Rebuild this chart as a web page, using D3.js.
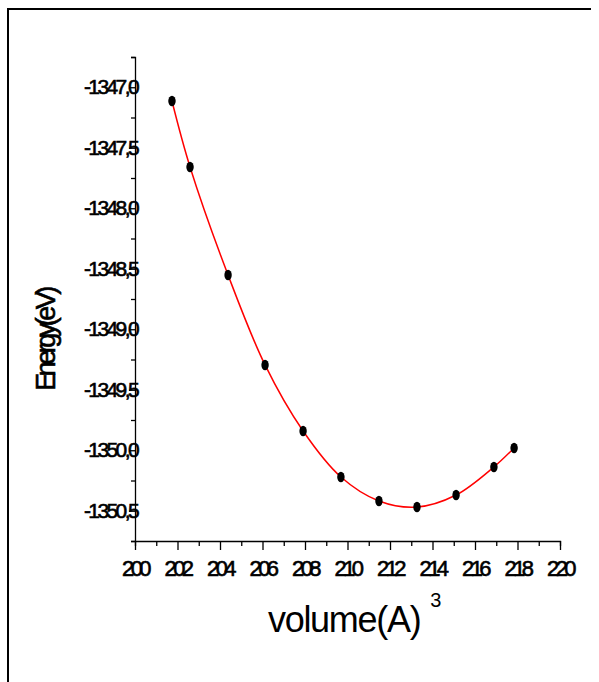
<!DOCTYPE html>
<html lang="en">
<head>
    <meta charset="UTF-8">
    <title>Energy vs volume</title>
    <style>
        body { margin: 0; background: #fff; }
        svg text { font-family: "Liberation Sans", Arial, sans-serif; fill: #000; }
        .heavy { stroke: #000; stroke-width: 0.6px; }
    </style>
</head>
<body>
    <svg class="chart"></svg>

    <script src="https://cdnjs.cloudflare.com/ajax/libs/d3/7.8.5/d3.min.js"></script>
    <script>

    // values
    const volumes  = [201.74, 202.59, 204.38, 206.12, 207.91, 209.69, 211.48, 213.27, 215.11, 216.89, 217.84];
    const energies = [-1347.114, -1347.659, -1348.552, -1349.295, -1349.841, -1350.221, -1350.419, -1350.469, -1350.370, -1350.138, -1349.981];

    const xTicks = [200, 202, 204, 206, 208, 210, 212, 214, 216, 218, 220];
    const yTicks = [-1347.0, -1347.5, -1348.0, -1348.5, -1349.0, -1349.5, -1350.0, -1350.5];

    const width = 599, height = 682;

    const svg = d3.select('.chart')
                    .attr('width', width)
                    .attr('height', height);

    // outer frame (only left and top edges show)
    svg.append('path')
        .attr('d', 'M8,682 L8,9 L591,9')
        .attr('fill', 'none')
        .attr('stroke', '#000')
        .attr('stroke-width', 2);

    const xScale = d3.scaleLinear().domain([200, 220]).range([135, 560]);
    const yScale = d3.scaleLinear().domain([-1346.75, -1350.75]).range([57, 541]);

    // x axis: major + minor ticks
    const xAxis = d3.axisBottom(xScale).tickValues(xTicks).tickSize(9).tickFormat('');
    const gx = svg.append('g').attr('transform', 'translate(0,541)').call(xAxis);
    gx.append('g').call(d3.axisBottom(xScale).tickValues(d3.range(201, 220, 2)).tickSize(5).tickFormat(''));

    // y axis
    const yAxis = d3.axisLeft(yScale).tickValues(yTicks).tickSize(6).tickFormat('');
    const gy = svg.append('g').attr('transform', 'translate(135,0)').call(yAxis);
    gy.append('g').call(d3.axisLeft(yScale).tickValues(yTicks.map(v => v + 0.25).concat([-1350.75])).tickSize(4).tickFormat(''));

    svg.selectAll('.domain').attr('stroke', '#000').attr('stroke-width', 1.3);
    svg.selectAll('.tick line').attr('stroke', '#000').attr('stroke-width', 1.3);
    gx.select('g .domain').remove();
    gy.select('g .domain').remove();

    // tick labels (squeezed like the original)
    svg.append('g').selectAll('text')
        .data(xTicks)
        .enter().append('text')
        .attr('class', 'heavy')
        .attr('x', d => xScale(d))
        .attr('y', 576)
        .attr('text-anchor', 'middle')
        .style('font-size', '22px')
        .style('letter-spacing', '-3.5px')
        .text(d => d);

    const fmtY = d => '-' + Math.abs(d).toFixed(1).replace('.', ',');
    svg.append('g').selectAll('text')
        .data(yTicks)
        .enter().append('text')
        .attr('class', 'heavy')
        .attr('x', 137)
        .attr('y', d => yScale(d) + 7)
        .attr('text-anchor', 'end')
        .style('font-size', '21px')
        .style('letter-spacing', '-2.6px')
        .text(fmtY);

    // axis titles
    const xt = svg.append('text')
        .attr('x', 268)
        .attr('y', 632)
        .style('font-size', '36px')
        .style('letter-spacing', '-1.3px');
    xt.append('tspan').text('volume(A)');
    xt.append('tspan').attr('dx', 10).attr('dy', -25).style('font-size', '20px').text('3');

    svg.append('text')
        .attr('class', 'heavy')
        .attr('transform', 'translate(55,340) rotate(-90)')
        .attr('text-anchor', 'middle')
        .style('font-size', '27px')
        .style('letter-spacing', '-3.5px')
        .text('Energy(eV)');

    // fitted curve through the points
    const pts = volumes.map((v, i) => [v, energies[i]]);
    const line = d3.line()
        .x(d => xScale(d[0]))
        .y(d => yScale(d[1]))
        .curve(d3.curveCatmullRom.alpha(0.5));

    svg.append('path')
        .datum(pts)
        .attr('d', line)
        .attr('fill', 'none')
        .attr('stroke', '#ff0000')
        .attr('stroke-width', 1.5);

    svg.append('g').selectAll('ellipse')
        .data(pts)
        .enter().append('ellipse')
        .attr('cx', d => xScale(d[0]))
        .attr('cy', d => yScale(d[1]))
        .attr('rx', 3.7)
        .attr('ry', 5.3)
        .attr('fill', '#000');

    </script>
</body>
</html>
